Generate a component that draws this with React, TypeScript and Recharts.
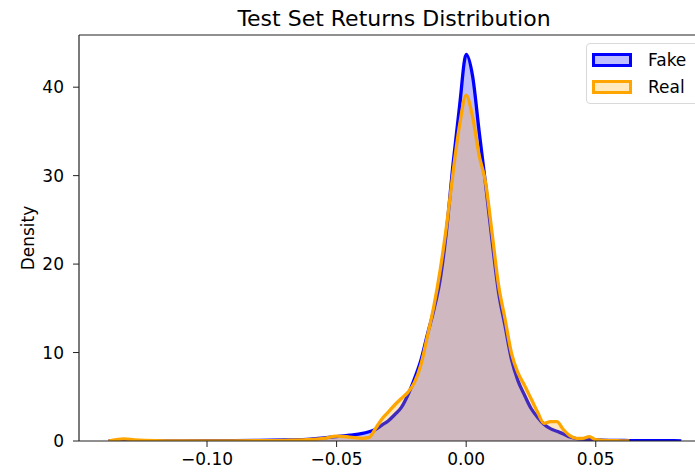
import React from 'react';
import { ComposedChart, Area, XAxis, YAxis, Legend, ReferenceLine } from 'recharts';

// return grid shared by both KDE curves
const returns = [
  -0.138, -0.135, -0.132, -0.128, -0.12, -0.11, -0.1, -0.09, -0.08, -0.07,
  -0.06, -0.055, -0.05, -0.045, -0.04, -0.0375, -0.035, -0.0325, -0.03, -0.0275,
  -0.025, -0.0225, -0.02, -0.0175, -0.015, -0.0125, -0.01, -0.0075, -0.005, -0.0025,
  0, 0.0025, 0.005, 0.0075, 0.01, 0.0125, 0.015, 0.0175, 0.02, 0.0225,
  0.025, 0.0275, 0.03, 0.0325, 0.035, 0.0375, 0.04, 0.0425, 0.045, 0.0475,
  0.05, 0.055, 0.06, 0.063, 0.065, 0.07, 0.075, 0.08, 0.083,
];

const fakeDensity = [
  0, 0.02, 0.02, 0.02, 0.02, 0.02, 0.03, 0.04, 0.06, 0.12,
  0.22, 0.35, 0.5, 0.65, 0.85, 1.05, 1.3, 1.8, 2.3, 3.0,
  3.8, 5.2, 7.0, 9.1, 12.0, 14.8, 18.3, 24.0, 31.5, 38.0,
  43.7, 41.2, 35.0, 29.0, 22.6, 16.8, 13.0, 9.2, 6.8, 5.2,
  3.7, 2.7, 1.9, 1.4, 1.1, 0.8, 0.45, 0.28, 0.2, 0.15,
  0.12, 0.08, 0.06, 0.05, 0.05, 0.05, 0.04, 0.03, 0,
];

const realDensity = [
  0, 0.15, 0.25, 0.12, 0.03, 0.02, 0.02, 0.02, 0.03, 0.08,
  0.18, 0.3, 0.55, 0.45, 0.3, 0.4, 1.4, 2.5, 3.3, 4.1,
  4.8, 5.5, 6.6, 8.6, 11.8, 15.2, 19.4, 24.5, 30.5, 35.8,
  39.1, 36.6, 32.3, 29.2, 23.5, 17.6, 13.8, 9.9, 7.7, 6.3,
  4.8, 3.3, 2.0, 2.2, 2.2, 1.3, 0.6, 0.3, 0.3, 0.5,
  0.15, 0.05, 0.02, 0, null, null, null, null, null,
];

const xTicks = [-0.1, -0.05, 0, 0.05];
const yTicks = [0, 10, 20, 30, 40];
const Y_MAX = 45.9;

const data = returns.map((r, i) => ({ ret: r, fake: fakeDensity[i], real: realDensity[i] }));

const FONT = '"DejaVu Sans", sans-serif';

const fmtX = (v: number) => (v < 0 ? '\u2212' + Math.abs(v).toFixed(2) : v.toFixed(2));

const legendItems = [
  { name: 'Fake', stroke: '#0000ff', fill: '#bfbfff' },
  { name: 'Real', stroke: '#ffa500', fill: '#ffe9bf' },
];

const renderLegend = () => (
  <div
    style={{
      width: 114,
      height: 61,
      border: '1px solid #d9d9d9',
      borderRadius: 4,
      background: 'rgba(255,255,255,0.8)',
      fontFamily: FONT,
      fontSize: 17,
      color: '#000',
      boxSizing: 'border-box',
      paddingTop: 2,
    }}
  >
    {legendItems.map((it) => (
      <div key={it.name} style={{ display: 'flex', alignItems: 'center', height: 27.5 }}>
        <span
          style={{
            display: 'inline-block',
            width: 40,
            height: 14,
            marginLeft: 5,
            marginRight: 16,
            background: it.fill,
            border: `3px solid ${it.stroke}`,
            boxSizing: 'border-box',
          }}
        />
        <span>{it.name}</span>
      </div>
    ))}
  </div>
);

export default function App() {
  return (
    <div style={{ position: 'absolute', left: 0, top: 0, width: 695, height: 473, overflow: 'hidden', background: '#fff' }}>
      <ComposedChart width={730} height={473} data={data} margin={{ top: 35, right: 21, bottom: 0, left: 0 }}>
        <XAxis
          dataKey="ret"
          type="number"
          domain={[-0.1494, 0.0937]}
          allowDataOverflow
          ticks={xTicks}
          tickFormatter={fmtX}
          height={32}
          tickSize={6}
          tickMargin={6}
          axisLine={{ stroke: '#222', strokeWidth: 1.2 }}
          tickLine={{ stroke: '#222' }}
          tick={{ fill: '#000', fontSize: 17, fontFamily: FONT }}
        />
        <YAxis
          type="number"
          domain={[0, Y_MAX]}
          allowDataOverflow
          ticks={yTicks}
          width={79}
          tickSize={6}
          tickMargin={9}
          axisLine={{ stroke: '#222', strokeWidth: 1.2 }}
          tickLine={{ stroke: '#222' }}
          tick={{ fill: '#000', fontSize: 17, fontFamily: FONT }}
          label={(props: any) => {
            const vb = props.viewBox || { y: 35, height: 406 };
            const cy = vb.y + vb.height / 2;
            return (
              <text
                x={28}
                y={cy}
                transform={`rotate(-90 28 ${cy})`}
                textAnchor="middle"
                dominantBaseline="central"
                fill="#000"
                fontSize={17}
                fontFamily={FONT}
              >
                Density
              </text>
            );
          }}
        />
        <Legend
          layout="vertical"
          align="center"
          verticalAlign="middle"
          content={renderLegend}
          wrapperStyle={{ top: 43, left: 586, width: 114, height: 61 }}
        />
        <Area
          type="monotone"
          dataKey="fake"
          stroke="#0000ff"
          strokeWidth={3.3}
          fill="#0000ff"
          fillOpacity={0.25}
          dot={false}
          activeDot={false}
          isAnimationActive={false}
        />
        <Area
          type="monotone"
          dataKey="real"
          stroke="#ffa500"
          strokeWidth={3.3}
          fill="#ffa500"
          fillOpacity={0.25}
          dot={false}
          activeDot={false}
          isAnimationActive={false}
        />
        {/* top spine + title */}
        <ReferenceLine
          y={Y_MAX}
          stroke="#222"
          strokeWidth={1.2}
          label={{
            value: 'Test Set Returns Distribution',
            position: 'top',
            offset: 9,
            fill: '#000',
            fontSize: 22,
            fontFamily: FONT,
          }}
        />
      </ComposedChart>
    </div>
  );
}
